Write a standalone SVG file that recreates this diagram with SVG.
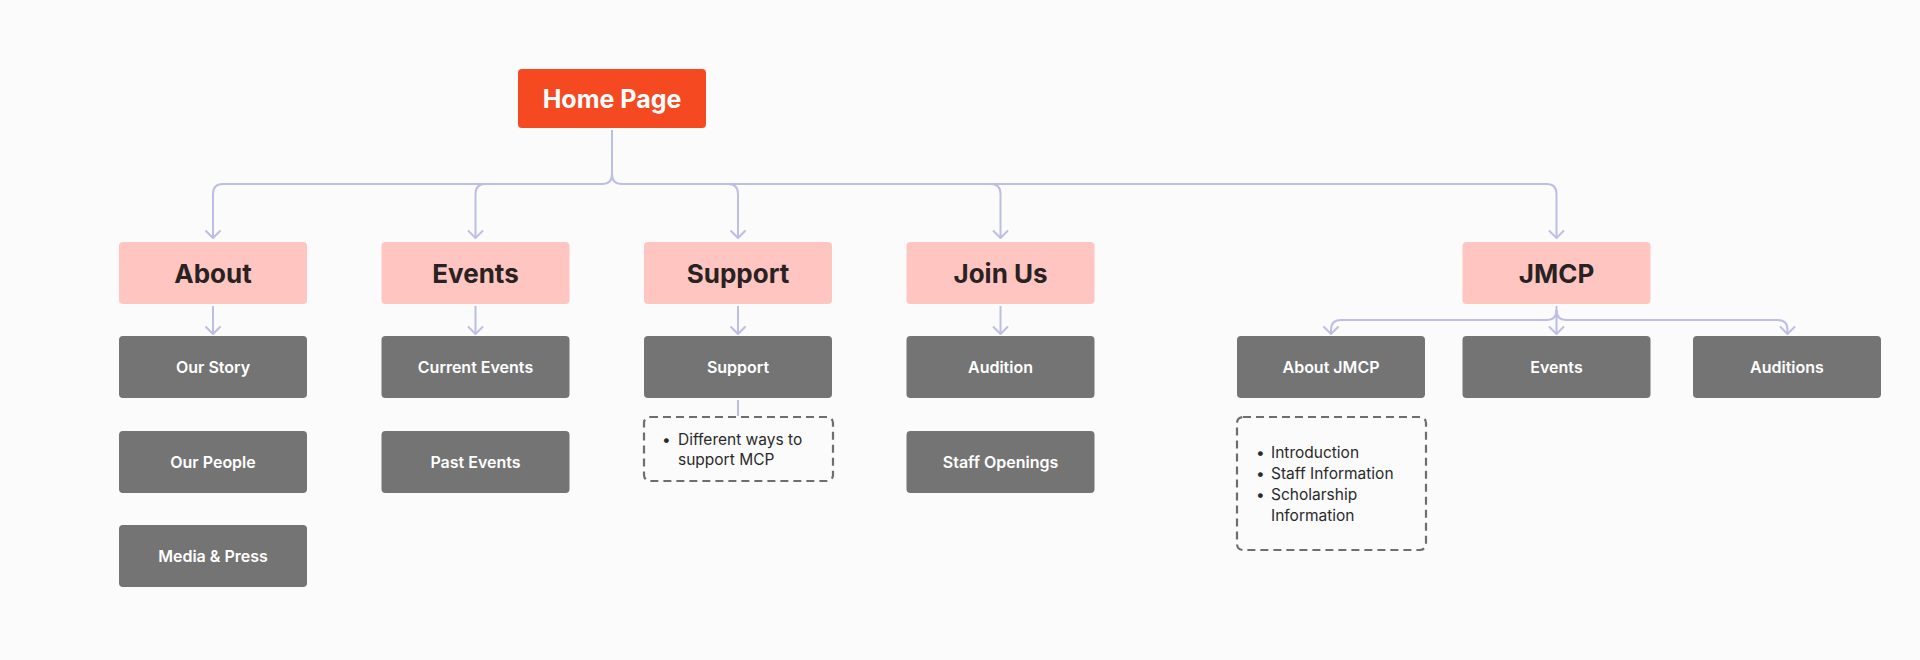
<svg xmlns="http://www.w3.org/2000/svg" width="1920" height="660" viewBox="0 0 1920 660">
  <style>
    .home { fill: #F54922; }
    .sec { fill: #FFC6C1; }
    .page { fill: #747474; }
    .note { fill: none; stroke: #6E6E6E; stroke-width: 2.2; stroke-dasharray: 8 5; }
    .t-home { font-family: Inter, "Liberation Sans", sans-serif; font-weight: 700; font-size: 25px; fill: #FFFFFF; text-anchor: middle; }
    .t-sec { font-family: Inter, "Liberation Sans", sans-serif; font-weight: 700; font-size: 26px; fill: #2A2222; text-anchor: middle; }
    .t-page { font-family: Inter, "Liberation Sans", sans-serif; font-weight: 600; font-size: 16px; fill: #FFFFFF; text-anchor: middle; }
    .t-note { font-family: Inter, "Liberation Sans", sans-serif; font-weight: 400; font-size: 15.5px; fill: #2A2A2A; }
    .conn { fill: none; stroke: #BDBEE6; stroke-width: 2; }
    .conn-a { fill: none; stroke: #BDBEE6; stroke-width: 2; marker-end: url(#arr); }
  </style>
  <defs>
    <marker id="arr" viewBox="-9 -9 18 18" refX="0" refY="0" markerWidth="18" markerHeight="18" markerUnits="userSpaceOnUse" orient="auto">
      <path d="M-7,-7 L0,0 L-7,7" fill="none" stroke="#BDBEE6" stroke-width="2" stroke-linecap="round" stroke-linejoin="round"/>
    </marker>
  </defs>
  <rect x="0" y="0" width="1920" height="660" fill="#FBFBFB"/>

  <g id="connectors">
    <path class="conn-a" d="M612,130 V174 Q612,184 602,184 H223 Q213,184 213,194 V238"/>
    <path class="conn-a" d="M612,174 Q612,184 622,184 H1546.5 Q1556.5,184 1556.5,194 V238"/>
    <path class="conn-a" d="M485.5,184 Q475.5,184 475.5,194 V238"/>
    <path class="conn-a" d="M728,184 Q738,184 738,194 V238"/>
    <path class="conn-a" d="M990.5,184 Q1000.5,184 1000.5,194 V238"/>
    <path class="conn-a" d="M213,306 V334"/>
    <path class="conn-a" d="M475.5,306 V334"/>
    <path class="conn-a" d="M738,306 V334"/>
    <path class="conn-a" d="M1000.5,306 V334"/>
    <path class="conn" d="M738,400 V416" stroke="#C8C8F0"/>
    <path class="conn-a" d="M1556.5,306 V334"/>
    <path class="conn-a" d="M1556.5,310 Q1556.5,320 1546.5,320 H1341 Q1331,320 1331,330 V334"/>
    <path class="conn-a" d="M1556.5,310 Q1556.5,320 1566.5,320 H1777.5 Q1787.5,320 1787.5,330 V334"/>
  </g>

  <g id="home">
    <rect class="home" x="518" y="69" width="188" height="59" rx="4"/>
    <text class="t-home" x="612" y="108">Home Page</text>
  </g>

  <g id="about">
    <rect class="sec" x="119" y="242" width="188" height="62" rx="4"/>
    <text class="t-sec" x="213" y="282.5">About</text>
  </g>
  <g id="events">
    <rect class="sec" x="381.5" y="242" width="188" height="62" rx="4"/>
    <text class="t-sec" x="475.5" y="282.5">Events</text>
  </g>
  <g id="support">
    <rect class="sec" x="644" y="242" width="188" height="62" rx="4"/>
    <text class="t-sec" x="738" y="282.5">Support</text>
  </g>
  <g id="join-us">
    <rect class="sec" x="906.5" y="242" width="188" height="62" rx="4"/>
    <text class="t-sec" x="1000.5" y="282.5">Join Us</text>
  </g>
  <g id="jmcp">
    <rect class="sec" x="1462.5" y="242" width="188" height="62" rx="4"/>
    <text class="t-sec" x="1556.5" y="282.5">JMCP</text>
  </g>

  <g id="our-story">
    <rect class="page" x="119" y="336" width="188" height="62" rx="4"/>
    <text class="t-page" x="213" y="373">Our Story</text>
  </g>
  <g id="our-people">
    <rect class="page" x="119" y="431" width="188" height="62" rx="4"/>
    <text class="t-page" x="213" y="468">Our People</text>
  </g>
  <g id="media-press">
    <rect class="page" x="119" y="525" width="188" height="62" rx="4"/>
    <text class="t-page" x="213" y="562">Media &amp; Press</text>
  </g>
  <g id="current-events">
    <rect class="page" x="381.5" y="336" width="188" height="62" rx="4"/>
    <text class="t-page" x="475.5" y="373">Current Events</text>
  </g>
  <g id="past-events">
    <rect class="page" x="381.5" y="431" width="188" height="62" rx="4"/>
    <text class="t-page" x="475.5" y="468">Past Events</text>
  </g>
  <g id="support-page">
    <rect class="page" x="644" y="336" width="188" height="62" rx="4"/>
    <text class="t-page" x="738" y="373">Support</text>
  </g>
  <g id="support-note">
    <rect class="note" x="644" y="417" width="189" height="64" rx="6"/>
    <text class="t-note" x="662" y="445">•</text>
    <text class="t-note" x="678" y="445">Different ways to</text>
    <text class="t-note" x="678" y="465">support MCP</text>
  </g>
  <g id="audition">
    <rect class="page" x="906.5" y="336" width="188" height="62" rx="4"/>
    <text class="t-page" x="1000.5" y="373">Audition</text>
  </g>
  <g id="staff-openings">
    <rect class="page" x="906.5" y="431" width="188" height="62" rx="4"/>
    <text class="t-page" x="1000.5" y="468">Staff Openings</text>
  </g>
  <g id="about-jmcp">
    <rect class="page" x="1237" y="336" width="188" height="62" rx="4"/>
    <text class="t-page" x="1331" y="373">About JMCP</text>
  </g>
  <g id="jmcp-note">
    <rect class="note" x="1237" y="417" width="189" height="133" rx="6"/>
    <text class="t-note" x="1256" y="458">•</text>
    <text class="t-note" x="1271" y="458">Introduction</text>
    <text class="t-note" x="1256" y="479">•</text>
    <text class="t-note" x="1271" y="479">Staff Information</text>
    <text class="t-note" x="1256" y="500">•</text>
    <text class="t-note" x="1271" y="500">Scholarship</text>
    <text class="t-note" x="1271" y="521">Information</text>
  </g>
  <g id="jmcp-events">
    <rect class="page" x="1462.5" y="336" width="188" height="62" rx="4"/>
    <text class="t-page" x="1556.5" y="373">Events</text>
  </g>
  <g id="auditions">
    <rect class="page" x="1693" y="336" width="188" height="62" rx="4"/>
    <text class="t-page" x="1787" y="373">Auditions</text>
  </g>
</svg>
